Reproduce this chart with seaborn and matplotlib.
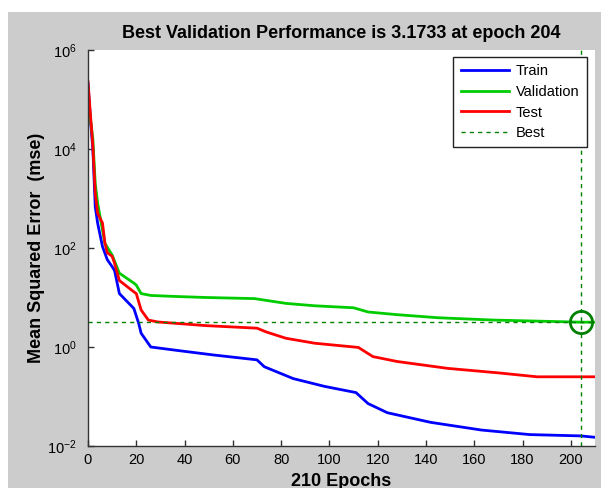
import numpy as np
import pandas as pd
import matplotlib
matplotlib.use("Agg")
import matplotlib.pyplot as plt
from matplotlib.patches import Rectangle
from matplotlib.lines import Line2D
import seaborn as sns

# ---- data ----
train_epochs = [0, 1, 2, 3, 4, 6, 8, 10, 11, 13, 19, 21, 22, 26, 38, 52, 70, 73, 85, 98, 111, 116, 124, 142, 163, 183, 204, 210]
train_mse = [2.1e5, 4e4, 1e4, 680, 316, 107, 58, 42, 35, 12, 6.0, 3.0, 1.9, 1.0, 0.84, 0.69, 0.55, 0.40, 0.23, 0.16, 0.12, 0.072, 0.047, 0.030, 0.021, 0.017, 0.016, 0.015]

val_epochs = [0, 1, 2, 3, 4, 5, 7, 10, 13, 19, 20, 22, 26, 36, 49, 69, 82, 94, 110, 116, 128, 145, 168, 190, 204, 210]
val_mse = [1.5e5, 4e4, 1.6e4, 2000, 800, 430, 124, 72, 31, 19.5, 17.8, 12, 11, 10.5, 10, 9.5, 7.6, 6.8, 6.2, 5.1, 4.5, 3.9, 3.5, 3.3, 3.1733, 3.17]

test_epochs = [0, 1, 2, 3, 4, 6, 7, 8, 10, 11, 13, 19, 20, 22, 25, 29, 49, 70, 74, 82, 94, 112, 118, 128, 149, 170, 186, 210]
test_mse = [2.3e5, 5e4, 1.2e4, 1260, 500, 320, 126, 80, 68, 49, 22, 13, 12, 5.6, 3.5, 3.2, 2.7, 2.4, 2.0, 1.5, 1.19, 0.98, 0.64, 0.51, 0.37, 0.30, 0.25, 0.25]

best_epoch = 204
best_perf = 3.1733

x_ticks = [0, 20, 40, 60, 80, 100, 120, 140, 160, 180, 200]
y_ticks = [1e-2, 1e0, 1e2, 1e4, 1e6]

title_text = "Best Validation Performance is 3.1733 at epoch 204"
xlabel_text = "210 Epochs"
ylabel_text = "Mean Squared Error  (mse)"

# ---- style ----
plt.rcParams["font.family"] = ["Liberation Sans", "DejaVu Sans"]
plt.rcParams["mathtext.fontset"] = "custom"
plt.rcParams["mathtext.rm"] = "Liberation Sans"
plt.rcParams["mathtext.it"] = "Liberation Sans:italic"
plt.rcParams["mathtext.bf"] = "Liberation Sans:bold"

BG = "#cccccc"
C_TRAIN = "#0000ff"
C_VAL = "#00cc00"
C_TEST = "#ff0000"
C_BEST = "#008000"

fig = plt.figure(figsize=(6.01, 4.88), dpi=100, facecolor="white")
fig.patches.append(Rectangle((8 / 601, 0), 1 - 8 / 601, 1 - 12 / 488,
                             transform=fig.transFigure, facecolor=BG,
                             edgecolor="none", zorder=-10))
ax = fig.add_axes([88 / 601, 1 - 446 / 488, (595 - 88) / 601, (446 - 50) / 488])
ax.set_facecolor("white")

df_train = pd.DataFrame({"epoch": train_epochs, "mse": train_mse})
df_val = pd.DataFrame({"epoch": val_epochs, "mse": val_mse})
df_test = pd.DataFrame({"epoch": test_epochs, "mse": test_mse})

sns.lineplot(data=df_train, x="epoch", y="mse", color=C_TRAIN, linewidth=2, ax=ax, estimator=None)
sns.lineplot(data=df_val, x="epoch", y="mse", color=C_VAL, linewidth=2, ax=ax, estimator=None)
sns.lineplot(data=df_test, x="epoch", y="mse", color=C_TEST, linewidth=2, ax=ax, estimator=None)

ax.set_yscale("log")
ax.set_xlim(0, 210)
ax.set_ylim(1e-2, 1e6)

ax.axhline(best_perf, color=C_BEST, linestyle=(0, (3, 3)), linewidth=1)
ax.axvline(best_epoch, color=C_BEST, linestyle=(0, (3, 3)), linewidth=1)
ax.plot([best_epoch], [best_perf], marker="o", markersize=16, markerfacecolor="none",
        markeredgecolor=C_BEST, markeredgewidth=2, linestyle="none")

ax.set_xticks(x_ticks)
ax.set_yticks(y_ticks)
ax.minorticks_off()
ax.tick_params(direction="in", length=4, width=1, color="#333333", labelsize=10.5,
               labelcolor="black")
ax.tick_params(axis="y", pad=8)
ax.tick_params(axis="x", pad=5)

for s in ["top", "right"]:
    ax.spines[s].set_visible(False)
for s in ["left", "bottom"]:
    ax.spines[s].set_color("#333333")
    ax.spines[s].set_linewidth(1)

ax.set_title(title_text, fontsize=13, fontweight="bold", pad=9)
ax.set_xlabel(xlabel_text, fontsize=13, fontweight="bold", labelpad=4)
ax.set_ylabel(ylabel_text, fontsize=13, fontweight="bold", labelpad=2)

handles = [
    Line2D([], [], color=C_TRAIN, linewidth=2),
    Line2D([], [], color=C_VAL, linewidth=2),
    Line2D([], [], color=C_TEST, linewidth=2),
    Line2D([], [], color=C_BEST, linewidth=1, linestyle=(0, (3, 3))),
]
leg = ax.legend(handles, ["Train", "Validation", "Test", "Best"], loc="upper right",
                bbox_to_anchor=(0.984, 0.982), borderaxespad=0, fontsize=10.5,
                handlelength=3.3, labelspacing=0.45, fancybox=False, framealpha=1,
                edgecolor="#222222", borderpad=0.5, handletextpad=0.5)
leg.get_frame().set_linewidth(1)

fig.savefig("out.png", dpi=100, facecolor=fig.get_facecolor())
